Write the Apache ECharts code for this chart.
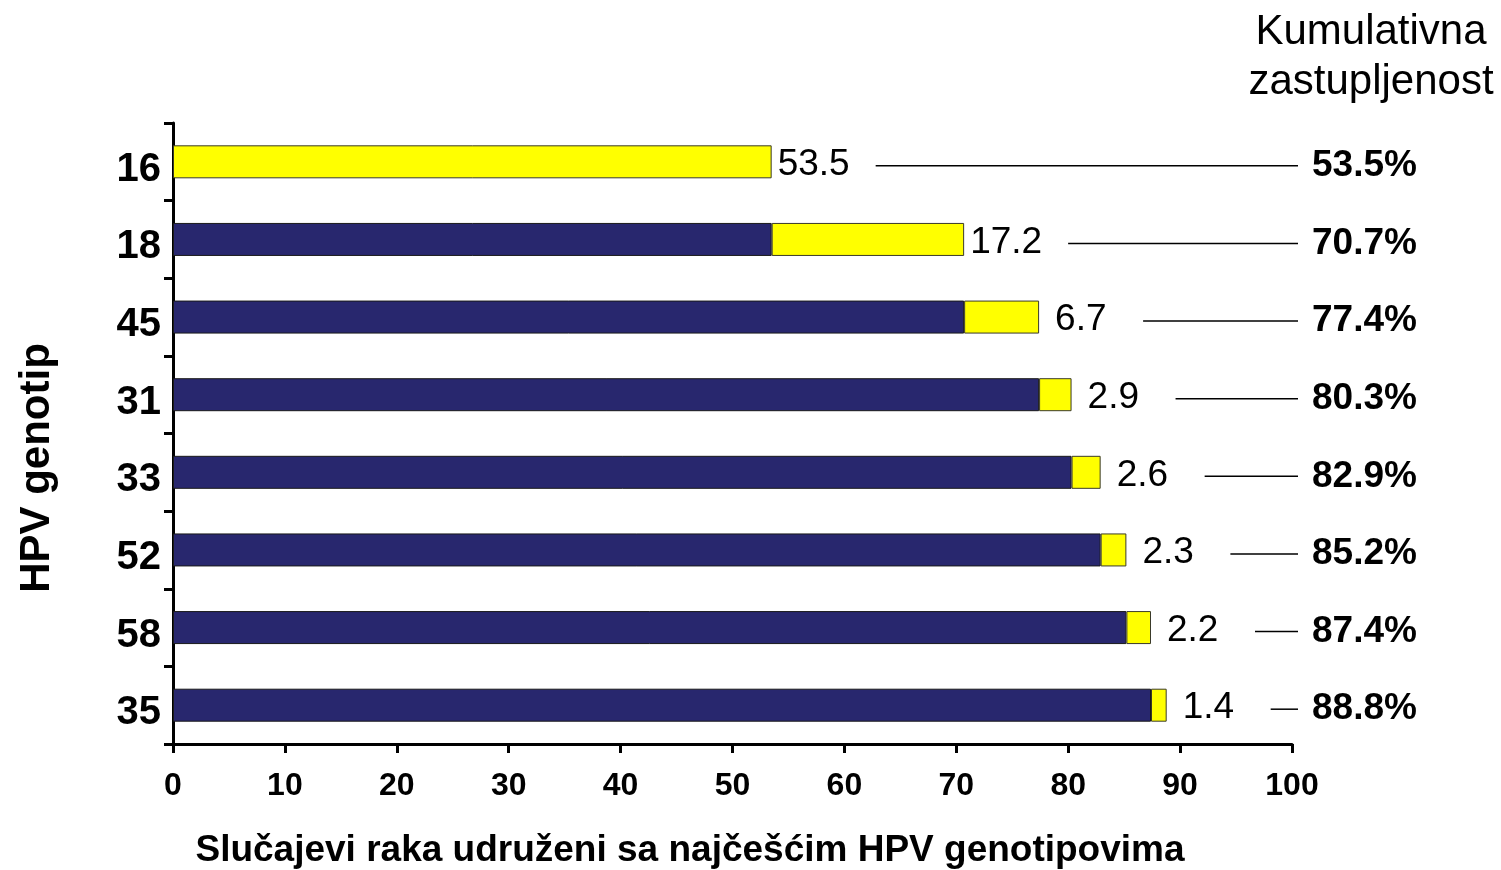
<!DOCTYPE html>
<html>
<head>
<meta charset="utf-8">
<script src="https://cdn.jsdelivr.net/npm/echarts@6/dist/echarts.min.js"></script>
<style>
html,body{margin:0;padding:0;background:#fff;}
#main{width:1501px;height:870px;}
</style>
</head>
<body>
<div id="main"></div>
<script>
// genotipovi, od najcesceg
var genotypes = ['16', '18', '45', '31', '33', '52', '58', '35'];
// udio pojedinog genotipa (%)
var share = [53.5, 17.2, 6.7, 2.9, 2.6, 2.3, 2.2, 1.4];
// kumulativna zastupljenost (%)
var cumulative = [53.5, 70.7, 77.4, 80.3, 82.9, 85.2, 87.4, 88.8];
var xTicks = [0, 100, 10];

var FONT = '"Liberation Sans", Arial, sans-serif';

function initChart()
{
	var base = [];
	var top = [];
	var marks = [];
	for (var i = 0; i < genotypes.length; i++)
	{
		var prev = i == 0 ? 0 : cumulative[i - 1];
		base.push(prev > 0 ? prev : '-');
		top.push({
			value : share[i],
			label : { distance : share[i] >= 10 ? 6 : 16 }
		});
		marks.push([cumulative[i], i]);
	}

	var option = {
		backgroundColor : '#fff',
		animation : false,
		textStyle : { fontFamily : FONT },
		grid : { left : 173, right : 209, top : 123, bottom : 126 },
		xAxis : {
			type : 'value',
			min : xTicks[0],
			max : xTicks[1],
			interval : xTicks[2],
			axisLine : { show : true, lineStyle : { color : '#000', width : 3 } },
			axisTick : { show : true, length : 9, lineStyle : { color : '#000', width : 3 } },
			axisLabel : { margin : 26, color : '#000', fontSize : 32, fontWeight : 'bold', fontFamily : FONT },
			splitLine : { show : false }
		},
		yAxis : {
			type : 'category',
			data : genotypes,
			inverse : true,
			axisLine : { show : true, lineStyle : { color : '#000', width : 3 } },
			axisTick : { show : true, length : 9, lineStyle : { color : '#000', width : 3 } },
			axisLabel : {
				margin : 12, color : '#000', fontSize : 40, fontWeight : 'bold', fontFamily : FONT,
				formatter : function (v) { return '{g|' + v + '}'; },
				rich : {
					g : {
						fontSize : 40, fontWeight : 'bold', fontFamily : FONT, color : '#000',
						padding : [16, 0, 0, 0]
					}
				}
			}
		},
		graphic : [
			{
				type : 'text', x : 1371, y : 7,
				style : {
					text : 'Kumulativna\nzastupljenost',
					fontSize : 42, lineHeight : 50, fontFamily : FONT,
					fill : '#000', textAlign : 'center', textVerticalAlign : 'top'
				}
			},
			{
				type : 'text', x : 690, y : 851,
				style : {
					text : 'Slučajevi raka udruženi sa najčešćim HPV genotipovima',
					fontSize : 37, fontWeight : 'bold', fontFamily : FONT,
					fill : '#000', textAlign : 'center', textVerticalAlign : 'middle'
				}
			},
			{
				type : 'text', x : 37, y : 468, rotation : Math.PI / 2,
				style : {
					text : 'HPV genotip',
					fontSize : 42, fontWeight : 'bold', fontFamily : FONT,
					fill : '#000', textAlign : 'center', textVerticalAlign : 'middle'
				}
			}
		],
		series : [
			{
				name : 'prethodni',
				type : 'bar',
				stack : 'a',
				barWidth : 33,
				data : base,
				itemStyle : { color : '#28276e', borderColor : '#1a1a1a', borderWidth : 1 }
			},
			{
				name : 'udio',
				type : 'bar',
				stack : 'a',
				barWidth : 33,
				data : top,
				itemStyle : { color : '#ffff00', borderColor : '#3a3a2a', borderWidth : 1 },
				label : {
					show : true,
					position : 'right',
					offset : [0, 3],
					color : '#000',
					fontSize : 37,
					fontFamily : FONT,
					formatter : function (p) { return p.value; }
				}
			},
			{
				name : 'kumulativno',
				type : 'custom',
				clip : false,
				data : marks,
				renderItem : function (params, api)
				{
					var cum = api.value(0);
					var idx = api.value(1);
					var p = api.coord([cum, idx]);
					var right = api.coord([100, idx])[0];
					var y = p[1] + 4;
					return {
						type : 'group',
						children : [
							{
								type : 'line',
								shape : { x1 : p[0] + 104, y1 : y, x2 : right + 6, y2 : y },
								style : { stroke : '#000', lineWidth : 1.5 }
							},
							{
								type : 'text',
								x : right + 20,
								y : p[1] + 4,
								style : {
									text : cum.toFixed(1) + '%',
									fontSize : 37, fontWeight : 'bold', fontFamily : FONT,
									fill : '#000', textAlign : 'left', textVerticalAlign : 'middle'
								}
							}
						]
					};
				}
			}
		]
	};

	var myChart = echarts.init(document.getElementById('main'), null, { renderer : 'canvas' });
	myChart.setOption(option);
}

initChart();
</script>
</body>
</html>
